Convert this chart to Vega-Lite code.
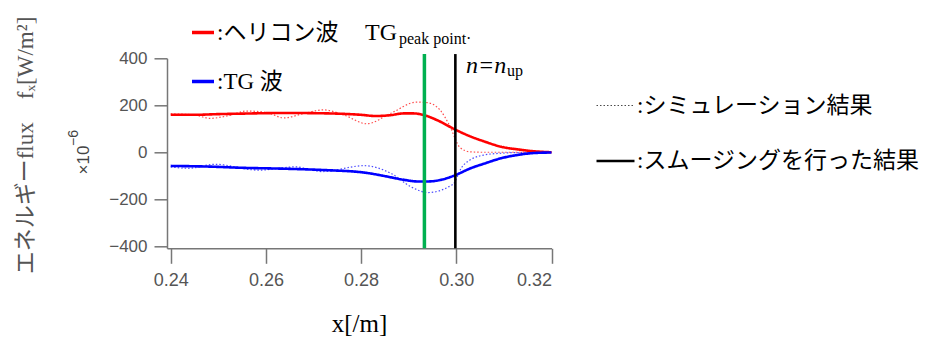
{
  "$schema": "https://vega.github.io/schema/vega-lite/v6.json",
  "autosize": {"type": "none"},
  "padding": {"left": 167, "top": 58.3, "right": 387.5, "bottom": 89.7},
  "width": 384.5,
  "height": 190,
  "background": "white",
  "config": {
    "view": {"stroke": null},
    "legend": {"padding": 0, "labelLimit": 400}
  },
  "datasets": {
    "curves": [
      {"x": 0.240, "y": 160, "wave": ":ヘリコン波", "kind": ":スムージングを行った結果"},
      {"x": 0.245, "y": 160, "wave": ":ヘリコン波", "kind": ":スムージングを行った結果"},
      {"x": 0.250, "y": 163, "wave": ":ヘリコン波", "kind": ":スムージングを行った結果"},
      {"x": 0.255, "y": 165, "wave": ":ヘリコン波", "kind": ":スムージングを行った結果"},
      {"x": 0.260, "y": 167, "wave": ":ヘリコン波", "kind": ":スムージングを行った結果"},
      {"x": 0.265, "y": 168, "wave": ":ヘリコン波", "kind": ":スムージングを行った結果"},
      {"x": 0.270, "y": 167, "wave": ":ヘリコン波", "kind": ":スムージングを行った結果"},
      {"x": 0.275, "y": 165, "wave": ":ヘリコン波", "kind": ":スムージングを行った結果"},
      {"x": 0.280, "y": 160, "wave": ":ヘリコン波", "kind": ":スムージングを行った結果"},
      {"x": 0.283, "y": 155, "wave": ":ヘリコン波", "kind": ":スムージングを行った結果"},
      {"x": 0.286, "y": 158, "wave": ":ヘリコン波", "kind": ":スムージングを行った結果"},
      {"x": 0.289, "y": 166, "wave": ":ヘリコン波", "kind": ":スムージングを行った結果"},
      {"x": 0.291, "y": 166, "wave": ":ヘリコン波", "kind": ":スムージングを行った結果"},
      {"x": 0.293, "y": 160, "wave": ":ヘリコン波", "kind": ":スムージングを行った結果"},
      {"x": 0.296, "y": 137, "wave": ":ヘリコン波", "kind": ":スムージングを行った結果"},
      {"x": 0.300, "y": 95, "wave": ":ヘリコン波", "kind": ":スムージングを行った結果"},
      {"x": 0.303, "y": 68, "wave": ":ヘリコン波", "kind": ":スムージングを行った結果"},
      {"x": 0.306, "y": 46, "wave": ":ヘリコン波", "kind": ":スムージングを行った結果"},
      {"x": 0.3095, "y": 24, "wave": ":ヘリコン波", "kind": ":スムージングを行った結果"},
      {"x": 0.313, "y": 13, "wave": ":ヘリコン波", "kind": ":スムージングを行った結果"},
      {"x": 0.3165, "y": 5, "wave": ":ヘリコン波", "kind": ":スムージングを行った結果"},
      {"x": 0.320, "y": 1, "wave": ":ヘリコン波", "kind": ":スムージングを行った結果"},

      {"x": 0.2400, "y": 164, "wave": ":ヘリコン波", "kind": ":シミュレーション結果"},
      {"x": 0.2448, "y": 160, "wave": ":ヘリコン波", "kind": ":シミュレーション結果"},
      {"x": 0.2483, "y": 145, "wave": ":ヘリコン波", "kind": ":シミュレーション結果"},
      {"x": 0.2518, "y": 155, "wave": ":ヘリコン波", "kind": ":シミュレーション結果"},
      {"x": 0.2560, "y": 176, "wave": ":ヘリコン波", "kind": ":シミュレーション結果"},
      {"x": 0.2602, "y": 170, "wave": ":ヘリコン波", "kind": ":シミュレーション結果"},
      {"x": 0.2637, "y": 147, "wave": ":ヘリコン波", "kind": ":シミュレーション結果"},
      {"x": 0.2679, "y": 165, "wave": ":ヘリコン波", "kind": ":シミュレーション結果"},
      {"x": 0.2721, "y": 181, "wave": ":ヘリコン波", "kind": ":シミュレーション結果"},
      {"x": 0.2763, "y": 160, "wave": ":ヘリコン波", "kind": ":シミュレーション結果"},
      {"x": 0.2812, "y": 122, "wave": ":ヘリコン波", "kind": ":シミュレーション結果"},
      {"x": 0.2861, "y": 165, "wave": ":ヘリコン波", "kind": ":シミュレーション結果"},
      {"x": 0.2917, "y": 214, "wave": ":ヘリコン波", "kind": ":シミュレーション結果"},
      {"x": 0.2938, "y": 212, "wave": ":ヘリコン波", "kind": ":シミュレーション結果"},
      {"x": 0.2966, "y": 180, "wave": ":ヘリコン波", "kind": ":シミュレーション結果"},
      {"x": 0.2985, "y": 118, "wave": ":ヘリコン波", "kind": ":シミュレーション結果"},
      {"x": 0.3008, "y": 21, "wave": ":ヘリコン波", "kind": ":シミュレーション結果"},
      {"x": 0.3029, "y": 3, "wave": ":ヘリコン波", "kind": ":シミュレーション結果"},
      {"x": 0.3059, "y": 1, "wave": ":ヘリコン波", "kind": ":シミュレーション結果"},
      {"x": 0.3130, "y": 1, "wave": ":ヘリコン波", "kind": ":シミュレーション結果"},
      {"x": 0.3200, "y": 0, "wave": ":ヘリコン波", "kind": ":シミュレーション結果"},

      {"x": 0.2400, "y": -57, "wave": ":TG 波", "kind": ":スムージングを行った結果"},
      {"x": 0.2483, "y": -60, "wave": ":TG 波", "kind": ":スムージングを行った結果"},
      {"x": 0.2550, "y": -65, "wave": ":TG 波", "kind": ":スムージングを行った結果"},
      {"x": 0.2620, "y": -68, "wave": ":TG 波", "kind": ":スムージングを行った結果"},
      {"x": 0.2690, "y": -72, "wave": ":TG 波", "kind": ":スムージングを行った結果"},
      {"x": 0.2750, "y": -77, "wave": ":TG 波", "kind": ":スムージングを行った結果"},
      {"x": 0.2780, "y": -80, "wave": ":TG 波", "kind": ":スムージングを行った結果"},
      {"x": 0.2813, "y": -87, "wave": ":TG 波", "kind": ":スムージングを行った結果"},
      {"x": 0.2849, "y": -100, "wave": ":TG 波", "kind": ":スムージングを行った結果"},
      {"x": 0.2890, "y": -116, "wave": ":TG 波", "kind": ":スムージングを行った結果"},
      {"x": 0.2919, "y": -123, "wave": ":TG 波", "kind": ":スムージングを行った結果"},
      {"x": 0.2940, "y": -123, "wave": ":TG 波", "kind": ":スムージングを行った結果"},
      {"x": 0.2970, "y": -115, "wave": ":TG 波", "kind": ":スムージングを行った結果"},
      {"x": 0.2997, "y": -97, "wave": ":TG 波", "kind": ":スムージングを行った結果"},
      {"x": 0.3030, "y": -67, "wave": ":TG 波", "kind": ":スムージングを行った結果"},
      {"x": 0.3059, "y": -47, "wave": ":TG 波", "kind": ":スムージングを行った結果"},
      {"x": 0.3095, "y": -24, "wave": ":TG 波", "kind": ":スムージングを行った結果"},
      {"x": 0.3130, "y": -10, "wave": ":TG 波", "kind": ":スムージングを行った結果"},
      {"x": 0.3165, "y": -2, "wave": ":TG 波", "kind": ":スムージングを行った結果"},
      {"x": 0.3200, "y": 0, "wave": ":TG 波", "kind": ":スムージングを行った結果"},

      {"x": 0.2400, "y": -61, "wave": ":TG 波", "kind": ":シミュレーション結果"},
      {"x": 0.2437, "y": -67, "wave": ":TG 波", "kind": ":シミュレーション結果"},
      {"x": 0.2493, "y": -50, "wave": ":TG 波", "kind": ":シミュレーション結果"},
      {"x": 0.2585, "y": -75, "wave": ":TG 波", "kind": ":シミュレーション結果"},
      {"x": 0.2662, "y": -61, "wave": ":TG 波", "kind": ":シミュレーション結果"},
      {"x": 0.2718, "y": -81, "wave": ":TG 波", "kind": ":シミュレーション結果"},
      {"x": 0.2806, "y": -56, "wave": ":TG 波", "kind": ":シミュレーション結果"},
      {"x": 0.2864, "y": -90, "wave": ":TG 波", "kind": ":シミュレーション結果"},
      {"x": 0.2906, "y": -147, "wave": ":TG 波", "kind": ":シミュレーション結果"},
      {"x": 0.2940, "y": -170, "wave": ":TG 波", "kind": ":シミュレーション結果"},
      {"x": 0.2993, "y": -135, "wave": ":TG 波", "kind": ":シミュレーション結果"},
      {"x": 0.3011, "y": -64, "wave": ":TG 波", "kind": ":シミュレーション結果"},
      {"x": 0.3032, "y": -28, "wave": ":TG 波", "kind": ":シミュレーション結果"},
      {"x": 0.3060, "y": -10, "wave": ":TG 波", "kind": ":シミュレーション結果"},
      {"x": 0.3095, "y": -3, "wave": ":TG 波", "kind": ":シミュレーション結果"},
      {"x": 0.3130, "y": 0, "wave": ":TG 波", "kind": ":シミュレーション結果"},
      {"x": 0.3200, "y": 0, "wave": ":TG 波", "kind": ":シミュレーション結果"}
    ],
    "notes": [
      {"x": 0.28082, "y": 477.7, "label": "TG", "style": "big"},
      {"x": 0.28796, "y": 462.8, "label": "peak point·", "style": "sub"},
      {"x": 0.30204, "y": 337.6, "label": "n=n", "style": "italic"},
      {"x": 0.31065, "y": 324.8, "label": "up", "style": "sub"},
      {"x": 0.22179, "y": -31.8, "label": "×10", "style": "unit"},
      {"x": 0.21958, "y": 61.6, "label": "−6", "style": "unitsup"}
    ]
  },
  "layer": [
    {
      "data": {"name": "curves"},
      "mark": {"type": "line", "interpolate": "monotone", "clip": false},
      "encoding": {
        "x": {
          "field": "x", "type": "quantitative",
          "scale": {"domain": [0.23922, 0.32], "nice": false, "zero": false},
          "axis": {
            "values": [0.24, 0.26, 0.28, 0.30, 0.32], "format": ".2f", "grid": false,
            "domainColor": "#777", "domainWidth": 1.5, "tickColor": "#777", "tickWidth": 1.5, "tickSize": 15,
            "labelFont": "Liberation Sans", "labelFontSize": 18, "labelColor": "#555", "labelPadding": 8,
            "title": "x[/m]", "titleFont": "Liberation Serif", "titleFontSize": 25, "titleFontWeight": "normal",
            "titleColor": "black", "titleBaseline": "alphabetic", "titleY": 83.4, "titleX": 192
          }
        },
        "y": {
          "field": "y", "type": "quantitative",
          "scale": {"domain": [-406.8, 400], "nice": false, "zero": false},
          "axis": {
            "values": [-400, -200, 0, 200, 400], "grid": false,
            "domainColor": "#777", "domainWidth": 1.5, "tickColor": "#777", "tickWidth": 1.5, "tickSize": 13,
            "labelFont": "Liberation Sans", "labelFontSize": 17, "labelColor": "#555", "labelPadding": 7,
            "title": "エネルギーflux　fₓ[W/m²]",
            "titleFont": "'Liberation Serif', 'DejaVu Serif', 'Noto Sans CJK JP'", "titleFontSize": 23, "titleFontWeight": "normal",
            "titleColor": "#555", "titleAngle": 270, "titleAlign": "center", "titleBaseline": "middle",
            "titleX": -142, "titleY": 86.7
          }
        },
        "detail": {"field": "wave"},
        "color": {
          "field": "wave", "type": "nominal",
          "scale": {"domain": [":ヘリコン波", ":TG 波"], "range": ["#ff0000", "#0000ff"]},
          "legend": {
            "title": null, "orient": "none", "legendX": 23, "legendY": -38.8,
            "symbolType": "stroke", "symbolSize": 484, "symbolStrokeWidth": 3.5,
            "labelFont": "'Liberation Serif', 'Noto Sans CJK JP'", "labelFontSize": 23, "labelColor": "black",
            "labelOffset": 1, "rowPadding": 24
          }
        },
        "strokeDash": {
          "field": "kind", "type": "nominal",
          "scale": {"domain": [":シミュレーション結果", ":スムージングを行った結果"], "range": [[1.5, 2], [1, 0]]},
          "legend": {
            "title": null, "orient": "none", "legendX": 428, "legendY": 27.2,
            "symbolType": "stroke", "symbolSize": 1444, "symbolStrokeWidth": 1.6, "symbolStrokeColor": "black",
            "labelFont": "'Liberation Serif', 'Noto Sans CJK JP'", "labelFontSize": 23, "labelColor": "black",
            "labelOffset": 1, "rowPadding": 23
          }
        },
        "strokeWidth": {
          "field": "kind", "type": "nominal",
          "scale": {"domain": [":シミュレーション結果", ":スムージングを行った結果"], "range": [1.2, 2.6]},
          "legend": null
        },
        "opacity": {
          "field": "kind", "type": "nominal",
          "scale": {"domain": [":シミュレーション結果", ":スムージングを行った結果"], "range": [0.7, 1]},
          "legend": null
        }
      }
    },
    {
      "data": {"values": [{"x": 0.2933}]},
      "mark": {"type": "rule", "color": "#00b050", "strokeWidth": 3.5},
      "encoding": {
        "x": {"field": "x", "type": "quantitative"},
        "y": {"datum": 418},
        "y2": {"datum": -406.8}
      }
    },
    {
      "data": {"values": [{"x": 0.2998}]},
      "mark": {"type": "rule", "color": "black", "strokeWidth": 2.6},
      "encoding": {
        "x": {"field": "x", "type": "quantitative"},
        "y": {"datum": 418},
        "y2": {"datum": -406.8}
      }
    },
    {
      "data": {"name": "notes"},
      "transform": [{"filter": "datum.style === 'big'"}],
      "mark": {"type": "text", "align": "left", "baseline": "alphabetic", "font": "Liberation Serif", "fontSize": 24, "color": "black", "clip": false},
      "encoding": {
        "x": {"field": "x", "type": "quantitative"},
        "y": {"field": "y", "type": "quantitative"},
        "text": {"field": "label"}
      }
    },
    {
      "data": {"name": "notes"},
      "transform": [{"filter": "datum.style === 'sub'"}],
      "mark": {"type": "text", "align": "left", "baseline": "alphabetic", "font": "Liberation Serif", "fontSize": 16, "color": "black", "clip": false},
      "encoding": {
        "x": {"field": "x", "type": "quantitative"},
        "y": {"field": "y", "type": "quantitative"},
        "text": {"field": "label"}
      }
    },
    {
      "data": {"name": "notes"},
      "transform": [{"filter": "datum.style === 'italic'"}],
      "mark": {"type": "text", "align": "left", "baseline": "alphabetic", "font": "Liberation Serif", "fontStyle": "italic", "fontSize": 24, "color": "black", "clip": false},
      "encoding": {
        "x": {"field": "x", "type": "quantitative"},
        "y": {"field": "y", "type": "quantitative"},
        "text": {"field": "label"}
      }
    },
    {
      "data": {"name": "notes"},
      "transform": [{"filter": "datum.style === 'unit'"}],
      "mark": {"type": "text", "align": "center", "baseline": "middle", "angle": 270, "font": "Liberation Sans", "fontSize": 17, "color": "#444", "clip": false},
      "encoding": {
        "x": {"field": "x", "type": "quantitative"},
        "y": {"field": "y", "type": "quantitative"},
        "text": {"field": "label"}
      }
    },
    {
      "data": {"name": "notes"},
      "transform": [{"filter": "datum.style === 'unitsup'"}],
      "mark": {"type": "text", "align": "center", "baseline": "middle", "angle": 270, "font": "Liberation Sans", "fontSize": 14, "color": "#444", "clip": false},
      "encoding": {
        "x": {"field": "x", "type": "quantitative"},
        "y": {"field": "y", "type": "quantitative"},
        "text": {"field": "label"}
      }
    }
  ]
}
